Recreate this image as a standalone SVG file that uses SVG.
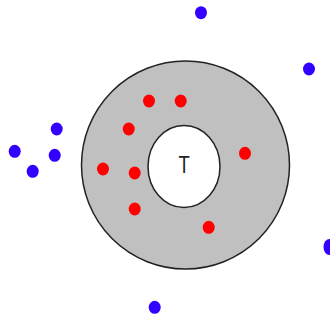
<svg xmlns="http://www.w3.org/2000/svg" width="330" height="320" viewBox="0 0 330 320">
<style>
.red{fill:#ff0000}
.blue{fill:#3300ff}
.ring{fill:#c0c0c0;stroke:#222;stroke-width:1.5}
.hole{fill:#ffffff;stroke:#222;stroke-width:1.5}
.lbl{font-family:"Liberation Sans",Arial,sans-serif;font-size:23px;fill:#222}
</style>
<rect width="330" height="320" fill="#ffffff"/>
<g id="outer"><circle class="ring" cx="185.5" cy="165" r="104"/></g>
<g id="inner"><ellipse class="hole" cx="184" cy="166.5" rx="36" ry="41"/>
<text class="lbl" text-anchor="middle" transform="translate(184,173) scale(0.8,1)">T</text></g>
<g id="red-dots">
<ellipse class="red" cx="149" cy="101" rx="6" ry="6.5"/>
<ellipse class="red" cx="180.7" cy="101" rx="6" ry="6.5"/>
<ellipse class="red" cx="128.7" cy="129" rx="6" ry="6.5"/>
<ellipse class="red" cx="245" cy="153.3" rx="6" ry="6.5"/>
<ellipse class="red" cx="103" cy="169" rx="6" ry="6.5"/>
<ellipse class="red" cx="134.7" cy="173" rx="6" ry="6.5"/>
<ellipse class="red" cx="134.7" cy="209" rx="6" ry="6.5"/>
<ellipse class="red" cx="208.7" cy="227.3" rx="6" ry="6.5"/>
</g>
<g id="blue-dots">
<ellipse class="blue" cx="201" cy="12.7" rx="6" ry="6.5"/>
<ellipse class="blue" cx="309" cy="69" rx="6" ry="6.5"/>
<ellipse class="blue" cx="56.7" cy="129" rx="6" ry="6.5"/>
<ellipse class="blue" cx="14.7" cy="151.3" rx="6" ry="6.5"/>
<ellipse class="blue" cx="54.7" cy="155.3" rx="6" ry="6.5"/>
<ellipse class="blue" cx="32.7" cy="171.3" rx="6" ry="6.5"/>
<ellipse class="blue" cx="329.5" cy="247" rx="6" ry="8"/>
<ellipse class="blue" cx="154.7" cy="307.3" rx="6" ry="6.5"/>
</g>
</svg>
